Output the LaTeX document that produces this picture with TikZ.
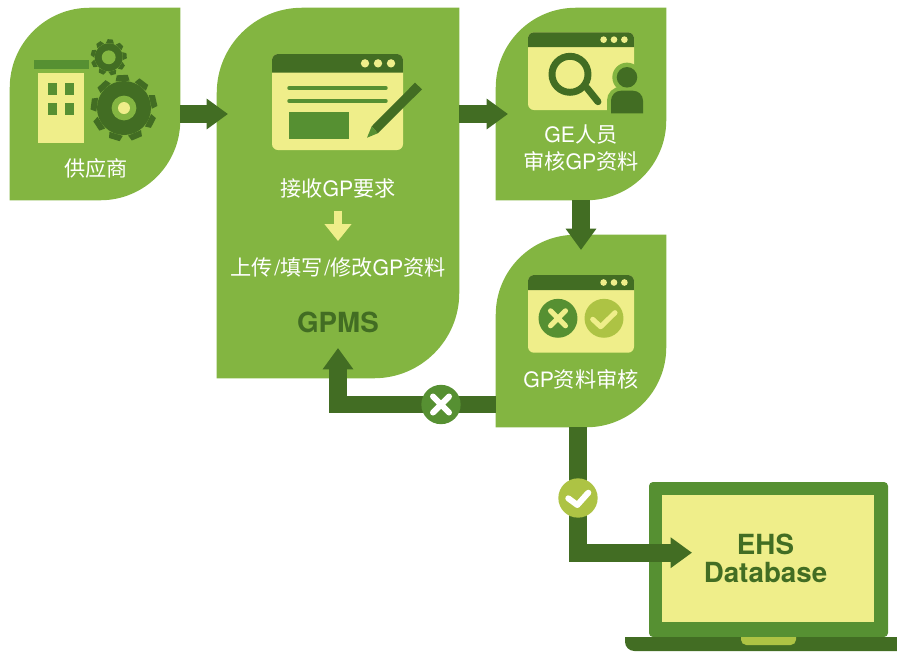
\documentclass[tikz,border=0pt]{standalone}
\usepackage{fontspec}
\setmainfont{TeX Gyre Heros}
\newfontfamily\cjk{Noto Sans CJK SC}
\usetikzlibrary{arrows.meta}
\definecolor{leafgreen}{RGB}{131,181,65}
\definecolor{darkgreen}{RGB}{66,109,35}
\definecolor{midgreen}{RGB}{86,144,50}
\definecolor{limegreen}{RGB}{173,195,68}
\definecolor{paleyellow}{RGB}{239,238,138}
\tikzset{
  leafbox/.style={inner sep=0pt},
  flow/.style={draw=darkgreen,line width=13.2pt,-{Triangle[length=16pt,width=22pt]}},
  stepdown/.style={draw=paleyellow,line width=6.6pt,-{Triangle[length=12.7pt,width=19.5pt]},shorten <=17pt,shorten >=19.5pt},
  caption/.style={inner sep=0.75pt,text=white,font=\fontsize{15.9}{20.25}\selectfont,align=center},
  heading/.style={inner sep=0.75pt,text=darkgreen,font=\fontsize{20.8}{21}\selectfont\bfseries,align=center},
  badge/.style={circle,inner sep=0pt,minimum size=29.5pt},
  mark stroke/.style={line width=#1,line cap=round,line join=round},
}
\newcommand{\zh}[1]{{\cjk #1}}
\newcommand{\leafshape}[2][60pt]{\fill [leafgreen] (#2.north east) [rounded corners=#1] -- (#2.south east) [sharp corners] -- (#2.south west) [rounded corners=#1] -- (#2.north west) [sharp corners] -- cycle ;}
\newcommand{\windowpane}[6]{
\fill [paleyellow,rounded corners=4.5pt] (#1,#2) rectangle (#3,#4) ;
\fill [darkgreen] (#1,#5) [rounded corners=4.5pt] -- (#1,#2) -- (#3,#2) [sharp corners] -- (#3,#5) -- cycle ;
\foreach \dotx in {-30.4,-20,-9.6} {\fill [paleyellow] (#3+\dotx*#6,{(#2+#5)/2}) circle [radius=#6*2.5pt] ;}
}
\newcommand{\gearicon}[6]{
\foreach \toothangle in {0,40,...,320} {\fill [darkgreen,shift={(#1,#2)},rotate=\toothangle+#6] (-#5-1.5,-#3) -- (-#5,-#4) -- (#5,-#4) -- (#5+1.5,-#3) -- cycle ;}
\fill [darkgreen] (#1,#2) circle [radius=#3*0.75pt] ;
}
\begin{document}
\begin{tikzpicture}[x=0.75pt,y=0.75pt,yscale=-1,xscale=1]
\useasboundingbox (0,0) rectangle (897,651) ;

\node (supplier) [leafbox,minimum width=127.5pt,minimum height=144pt] at (95,104) {};
\node (gpms) [leafbox,minimum width=181.5pt,minimum height=277.5pt] at (338,193) {};
\node (review) [leafbox,minimum width=127.5pt,minimum height=144pt] at (581,104) {};
\node (audit) [leafbox,minimum width=127.5pt,minimum height=144pt] at (581,331) {};
\leafshape{supplier}
\leafshape[64pt]{gpms}
\leafshape{review}
\leafshape{audit}

% laptop
\fill [midgreen,rounded corners=3pt] (649,637) -- (649,482) -- (888,482) -- (888,637) -- cycle ;
\fill [paleyellow] (662,495) rectangle (874,622) ;
\fill [darkgreen] (625,637) [rounded corners=7pt] -- (625,651) [sharp corners] -- (897,651) -- (897,637) -- cycle ;
\fill [limegreen] (741,637) [rounded corners=4pt] -- (741,645) -- (796,645) [sharp corners] -- (796,637) -- cycle ;

% building and gears
\fill [midgreen] (34,60) rectangle (89,69) ;
\fill [paleyellow] (38,73) rectangle (84,142.7) ;
\foreach \winx in {48,65} {\foreach \winy in {83,103} {\fill [midgreen] (\winx,\winy) rectangle (\winx+9,\winy+12) ;}}
\gearicon{124}{108}{27}{33}{5.5}{-3}
\fill [leafgreen] (124,108) circle [radius=9.3pt] ;
\fill [paleyellow] (124,108) circle [radius=4.5pt] ;
\gearicon{108.7}{57.3}{14}{18}{2.5}{5}
\fill [leafgreen] (108.7,57.3) circle [radius=5.2pt] ;

% form window
\windowpane{272}{54}{403}{150}{72.7}{1.25}
\draw [midgreen,mark stroke=2.6pt] (289,88) -- (386,88) ;
\draw [midgreen,mark stroke=2.6pt] (289,101) -- (386,101) ;
\fill [midgreen] (289,112) rectangle (349,139) ;
\fill [darkgreen] (415,82.7) -- (422,89.3) -- (377.7,133.3) -- (371.7,126.3) -- cycle ;
\fill [midgreen] (367,137.7) -- (371.7,126.3) -- (377.7,133.3) -- cycle ;

% search window
\windowpane{528}{32.3}{634}{110}{47}{1}
\draw [darkgreen,line width=5.2pt] (570,74.3) circle [radius=13.5pt] ;
\draw [darkgreen,mark stroke=5.2pt] (587,88) -- (598,101.7) ;
\fill [leafgreen] (627,77.3) circle [radius=11pt] ;
\draw [leafgreen,line width=6pt] (611,113.3) [rounded corners=7.5pt] -- (611,90.7) -- (643,90.7) [sharp corners] -- (643,113.3) -- cycle ;
\fill [darkgreen] (627,77.3) circle [radius=7.7pt] ;
\fill [darkgreen] (611,113.3) [rounded corners=7.5pt] -- (611,90.7) -- (643,90.7) [sharp corners] -- (643,113.3) -- cycle ;

% audit window
\windowpane{528}{275}{634}{352.7}{290}{1}
\fill [midgreen] (558,318.3) circle [radius=14.6pt] ;
\draw [paleyellow,mark stroke=3.8pt] (550.5,310.8) -- (565.5,325.8) (565.5,310.8) -- (550.5,325.8) ;
\fill [limegreen] (604,318.3) circle [radius=14.6pt] ;
\draw [paleyellow,mark stroke=3.8pt] (592.7,319.3) -- (600.7,326.7) -- (615,312.7) ;

% texts
\node (suppliertext) [caption] at (96,168) {\zh{供应商}};
\node (receive) [caption] at (338,188) {\zh{接收}GP\zh{要求}};
\node (upload) [caption] at (338,267) {\zh{上传}\hspace{1.2pt}/\zh{填写}\hspace{1.2pt}/\zh{修改}GP\zh{资料}};
\node (gpmstext) [heading] at (338,322) {GPMS};
\node (reviewtext) [caption] at (581,147.5) {GE\zh{人员}\\\zh{审核}GP\zh{资料}};
\node (audittext) [caption] at (581,379) {GP\zh{资料审核}};
\node (ehs) [heading] at (765.5,558) {EHS\\Database};

% connectors
\coordinate (gpmsin) at (228,114);
\coordinate (reviewin) at (508,114);
\coordinate (auditin) at (581,250);
\coordinate (gpmsback) at (338,348);
\coordinate (ehsin) at (692,552.7);
\node (reject) [badge] at (441,404.5) {};
\node (pass) [badge] at (578,498) {};
\draw [stepdown] (receive.center) -- (upload.center) ;
\draw [flow] (supplier.east |- gpmsin) -- (gpmsin) ;
\draw [flow] (gpms.east |- reviewin) -- (reviewin) ;
\draw [flow] (review.south) -- (auditin) ;
\draw [flow] (audit.west |- reject) -| (gpmsback) ;
\draw [flow] (audit.south -| pass) |- (ehsin) ;
\fill [midgreen] (reject) circle [radius=14.75pt] ;
\fill [limegreen] (pass) circle [radius=14.75pt] ;
\draw [white,mark stroke=4.5pt] (433,396.5) -- (449,412.5) (449,396.5) -- (433,412.5) ;
\draw [white,mark stroke=4.5pt] (568.3,498.3) -- (577.3,505) -- (588.3,492.7) ;
\end{tikzpicture}
\end{document}
